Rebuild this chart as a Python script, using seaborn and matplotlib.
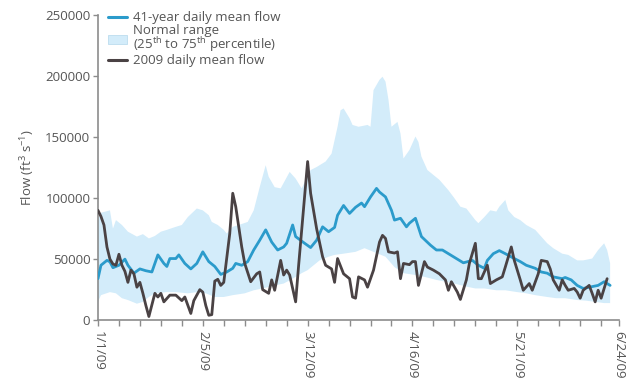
import numpy as np
import pandas as pd
import matplotlib
matplotlib.use("Agg")
import matplotlib.pyplot as plt
import matplotlib.dates as mdates
from matplotlib.lines import Line2D
from matplotlib.patches import Patch
import seaborn as sns

# ---------------- data (day offsets from 2009-01-01, flow in ft3/s) ----------------
obs_days = [0, 1, 2, 3, 4, 5, 6, 7, 8, 9, 10, 11, 12, 13, 14, 15, 16, 17, 19, 20, 21, 22, 24, 26,
            28, 29, 31, 32, 34, 35, 36, 37, 38, 39, 40, 41, 42, 44, 45, 46, 48, 49, 51, 53, 54, 55,
            57, 58, 59, 61, 62, 63, 64, 66, 67, 70, 71, 73, 75, 76, 78, 79, 80, 82, 84, 85, 86, 87,
            89, 90, 91, 92, 94, 95, 96, 97, 99, 100, 101, 102, 104, 105, 106, 107, 109, 110, 112,
            114, 116, 117, 118, 120, 121, 123, 124, 126, 127, 128, 130, 131, 133, 135, 136, 138,
            139, 141, 142, 144, 145, 147, 148, 150, 151, 152, 154, 155, 156, 157, 159, 160, 161,
            162, 164, 165, 166, 167, 168, 170]
obs_flow = [90000, 85000, 78000, 60000, 50000, 46000, 45000, 54000, 45000, 40000, 31000, 41000,
            38000, 27000, 31000, 22000, 12000, 3000, 22000, 19000, 22000, 15000, 20500, 20500,
            16000, 19000, 5500, 16000, 25000, 23000, 12000, 4000, 4500, 32000, 33500, 28500,
            31000, 71000, 104000, 93000, 60000, 46500, 31500, 38000, 39500, 25000, 22000, 33000,
            24500, 49000, 37000, 41000, 37000, 15000, 45000, 130000, 104000, 75000, 52000, 45000,
            42000, 31000, 50500, 38000, 34000, 19000, 18000, 35500, 33000, 27000, 34000, 41000,
            64000, 69500, 67000, 56000, 55000, 56000, 34000, 46500, 45500, 48000, 48000, 28500,
            48000, 43500, 41000, 38000, 33000, 24500, 31500, 23000, 17000, 33000, 46500, 63000,
            34000, 34000, 45000, 30000, 33000, 35500, 43500, 60000, 49000, 33000, 24500, 30000,
            24500, 38000, 49000, 48000, 42000, 33000, 24500, 33000, 28500, 24500, 26000, 23000,
            18000, 24500, 28500, 22000, 15000, 24500, 18000, 34000]

mean_days = [0, 1, 3, 4, 5, 7, 9, 10, 12, 14, 16, 18, 20, 22, 23, 24, 26, 27, 29, 31, 33, 35, 37,
             39, 41, 43, 45, 46, 48, 50, 52, 54, 56, 58, 60, 62, 63, 65, 66, 69, 71, 73, 75, 77,
             79, 80, 82, 84, 86, 88, 89, 91, 93, 94, 96, 98, 99, 101, 103, 104, 106, 108, 111,
             113, 115, 117, 120, 122, 125, 127, 129, 130, 132, 134, 136, 139, 141, 143, 146, 148,
             150, 152, 155, 156, 158, 160, 162, 165, 167, 169, 171]
mean_flow = [34000, 45000, 49000, 47800, 43000, 45000, 50000, 45000, 38500, 42000, 40500, 39500,
             53500, 46500, 44000, 50500, 50500, 53500, 46500, 42000, 46500, 56000, 48000, 44000,
             37500, 39500, 42500, 46500, 45000, 48000, 57500, 65500, 74000, 64000, 57500, 60000,
             63000, 78000, 68500, 63000, 59500, 65500, 76500, 72500, 76000, 86000, 94000, 87500,
             92500, 96000, 93000, 101000, 108000, 105000, 101000, 90000, 82000, 83500, 76500,
             79500, 83500, 68500, 61500, 57500, 57500, 54500, 50000, 47000, 49000, 45000, 42500,
             49000, 54500, 57000, 54500, 50500, 48000, 45000, 42500, 39500, 38500, 35500, 34000,
             35000, 33000, 28500, 26000, 27500, 28500, 31500, 28500]

p75_days = [0, 1, 4, 5, 6, 8, 10, 13, 15, 17, 19, 21, 23, 26, 28, 30, 33, 35, 37, 38, 40, 42, 43,
            45, 47, 50, 52, 54, 56, 57, 59, 61, 64, 66, 68, 71, 73, 76, 78, 79, 80, 81, 82, 84, 85,
            87, 90, 91, 92, 94, 95, 96, 97, 98, 100, 101, 102, 104, 106, 107, 108, 110, 112, 114,
            117, 119, 121, 123, 126, 127, 129, 131, 133, 134, 136, 137, 139, 141, 143, 146, 148,
            150, 152, 155, 157, 160, 162, 165, 167, 169, 170, 171]
p75_flow = [82000, 88000, 90000, 75000, 82000, 78000, 72500, 68500, 70500, 67000, 69000, 72500,
            74000, 76500, 78000, 84500, 91500, 90000, 86000, 80500, 78000, 74000, 71000, 76500,
            78000, 80500, 90000, 109000, 127000, 117500, 109000, 108000, 121500, 116000, 108000,
            123000, 125500, 130000, 136500, 147500, 158500, 172000, 173500, 165500, 160000,
            158500, 160000, 158500, 188500, 197000, 199500, 195500, 180500, 158500, 162500,
            153000, 132500, 139500, 150500, 146000, 134000, 123000, 119000, 115000, 106500,
            100000, 93000, 91500, 82000, 79500, 84500, 90000, 89000, 93000, 98500, 90000, 84500,
            82000, 78000, 74000, 68500, 63000, 59000, 54500, 53500, 49000, 49000, 50500, 57500,
            63000, 57500, 46500]

p25_days = [0, 1, 4, 6, 8, 10, 13, 15, 17, 19, 23, 26, 30, 33, 36, 39, 42, 45, 49, 52, 55, 59, 62,
            65, 68, 70, 72, 74, 77, 79, 82, 86, 89, 92, 96, 99, 102, 106, 109, 113, 116, 119, 123,
            126, 129, 133, 136, 140, 143, 146, 150, 153, 156, 160, 163, 166, 169, 171]
p25_flow = [15000, 20500, 23000, 22000, 18000, 16500, 13500, 15000, 19000, 22000, 23000, 23000,
            22000, 23000, 22000, 19000, 19000, 20500, 22000, 24500, 26000, 28500, 30000, 34000,
            38500, 41000, 45000, 49000, 52000, 53500, 54500, 56000, 59000, 56000, 52000, 43500,
            38500, 37000, 35500, 33000, 31500, 30000, 27500, 26000, 26000, 24500, 24500, 23000,
            22000, 20500, 19000, 18000, 18000, 16500, 16000, 15000, 14000, 14000]

tick_dates = ["2009-01-01", "2009-02-05", "2009-03-12", "2009-04-16", "2009-05-21", "2009-06-24"]
tick_labels = ["1/1/09", "2/5/09", "3/12/09", "4/16/09", "5/21/09", "6/24/09"]
y_ticks = [0, 50000, 100000, 150000, 200000, 250000]

series_names = ["41-year daily mean flow",
                "Normal range\n(25$^{\\mathregular{th}}$ to 75$^{\\mathregular{th}}$ percentile)",
                "2009 daily mean flow"]

# ---------------- styling ----------------
BLUE = "#2b9bcb"
BAND = "#d3ecfa"
DARK = "#4a4244"
AXC = "#8c8c8c"
TXT = "#555555"

sns.set_theme(style="white")
plt.rcParams["font.family"] = ["Open Sans", "DejaVu Sans"]
plt.rcParams["mathtext.fontset"] = "custom"
plt.rcParams["mathtext.rm"] = "Open Sans"
plt.rcParams["mathtext.it"] = "Open Sans"

base = pd.Timestamp("2009-01-01")
to_dates = lambda d: base + pd.to_timedelta(np.asarray(d), unit="D")

fig = plt.figure(figsize=(6.26, 3.78), dpi=100)
ax = fig.add_axes([0.1565, 0.153, 0.8325, 0.807])

# normal range band (polygon from upper and lower edges)
bx = np.concatenate([mdates.date2num(to_dates(p75_days)), mdates.date2num(to_dates(p25_days))[::-1]])
by = np.concatenate([np.asarray(p75_flow), np.asarray(p25_flow)[::-1]])
ax.fill(bx, by, color=BAND, lw=0, zorder=1)

mean_df = pd.DataFrame({"date": to_dates(mean_days), "flow": mean_flow})
obs_df = pd.DataFrame({"date": to_dates(obs_days), "flow": obs_flow})
sns.lineplot(data=mean_df, x="date", y="flow", color=BLUE, lw=2.0, ax=ax,
             estimator=None, zorder=3)
sns.lineplot(data=obs_df, x="date", y="flow", color=DARK, lw=2.0, ax=ax,
             estimator=None, zorder=4)

ax.set_xlim(mdates.date2num(pd.Timestamp(tick_dates[0])), mdates.date2num(pd.Timestamp(tick_dates[-1])))
ax.set_ylim(0, 250000)

ax.set_xticks(mdates.date2num(pd.to_datetime(tick_dates)))
ax.set_xticklabels(tick_labels, rotation=270, ha="center", va="top")
ax.set_xticks(mdates.date2num(to_dates(np.arange(0, 175, 7))), minor=True)
ax.set_yticks(y_ticks)
ax.set_yticklabels([str(v) for v in y_ticks])

for s in ["top", "right"]:
    ax.spines[s].set_visible(False)
for s in ["left", "bottom"]:
    ax.spines[s].set_color(AXC)
    ax.spines[s].set_linewidth(1.2)

ax.tick_params(axis="both", which="both", direction="out", color=AXC, width=1.0,
               labelcolor=TXT, labelsize=9.5)
ax.tick_params(axis="x", which="major", length=4, bottom=True, pad=4)
ax.tick_params(axis="x", which="minor", length=4, bottom=True)
ax.tick_params(axis="y", which="major", length=3.5, left=True, pad=2)

ax.set_xlabel("")
ax.set_ylabel("Flow (ft$^3$ s$^{-1}$)", color=TXT, fontsize=9.5, labelpad=6)

handles = [Line2D([], [], color=BLUE, lw=2.2),
           Patch(facecolor=BAND, edgecolor="#bcdcee", lw=0.6),
           Line2D([], [], color=DARK, lw=2.2)]
leg = ax.legend(handles, series_names, loc="upper left", bbox_to_anchor=(0.019, 1.012),
                frameon=False, fontsize=9.5, handlelength=1.45, handletextpad=0.45,
                labelspacing=0.0, borderpad=0.0, borderaxespad=0)
for t in leg.get_texts():
    t.set_color(TXT)
    t.set_linespacing(0.85)

fig.savefig("out.png", dpi=100)
